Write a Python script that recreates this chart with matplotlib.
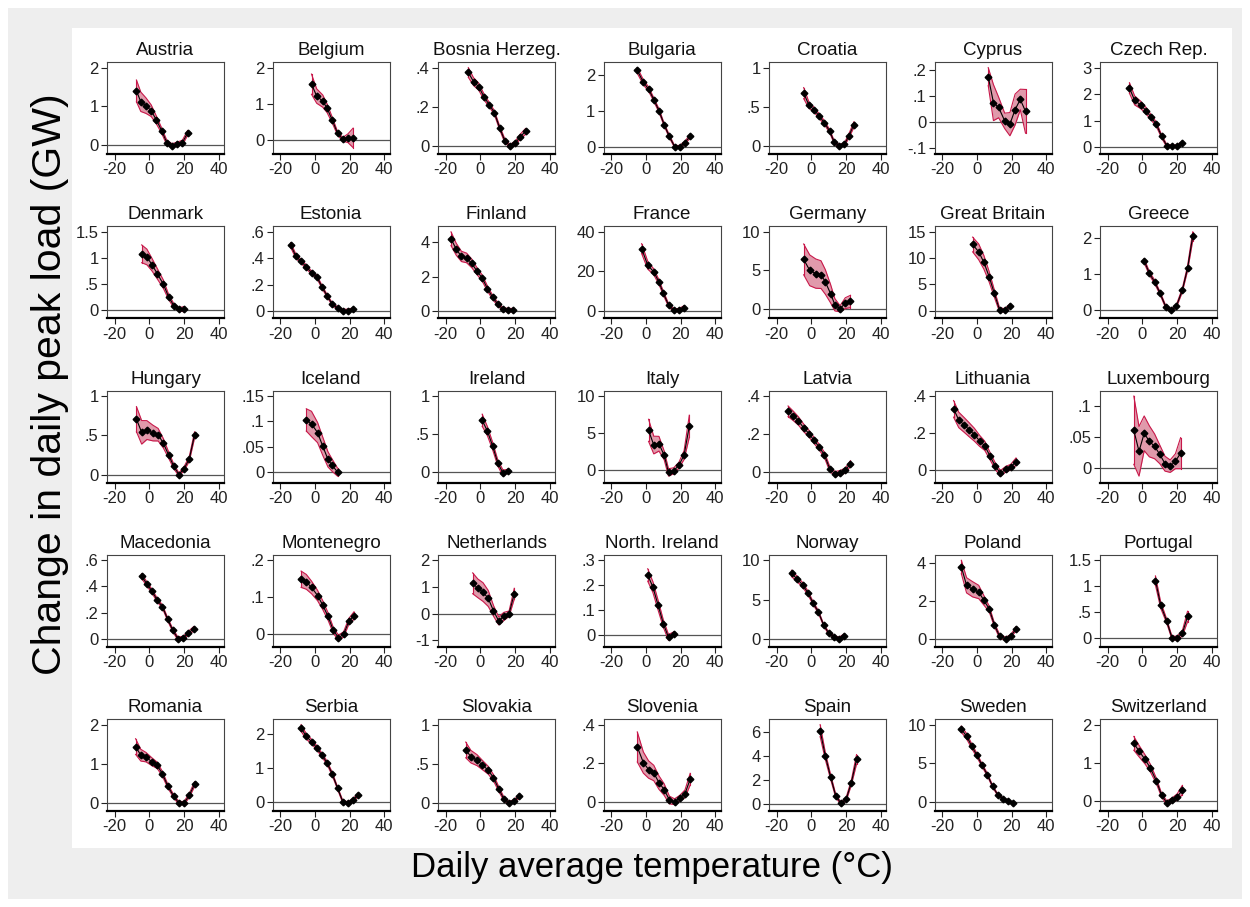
import matplotlib
matplotlib.use("Agg")
import matplotlib.pyplot as plt
from matplotlib.patches import Rectangle

COUNTRIES = [
    "Austria", "Belgium", "Bosnia Herzeg.", "Bulgaria", "Croatia", "Cyprus", "Czech Rep.",
    "Denmark", "Estonia", "Finland", "France", "Germany", "Great Britain", "Greece",
    "Hungary", "Iceland", "Ireland", "Italy", "Latvia", "Lithuania", "Luxembourg",
    "Macedonia", "Montenegro", "Netherlands", "North. Ireland", "Norway", "Poland", "Portugal",
    "Romania", "Serbia", "Slovakia", "Slovenia", "Spain", "Sweden", "Switzerland",
]

# bin temperatures (deg C) per country
TEMPS = [
    [-7.5, -5, -2, 1, 4, 7, 10, 13, 16, 19, 22],
    [-2, 1, 4.5, 7, 10, 13, 16, 19, 22],
    [-7, -4, -1, 2, 5, 8, 11, 14, 17, 20, 23, 26],
    [-5, -1.5, 1.5, 4.5, 7.5, 10.5, 13.5, 16.5, 19.5, 22.5, 25.5],
    [-4.5, -1.5, 1.5, 4.5, 7.5, 10.5, 13, 16, 19, 21.5, 24.5],
    [6.5, 9.5, 12.5, 16, 19, 22, 25, 28],
    [-7.5, -4.5, -1, 2, 5, 8, 11, 14, 17, 20, 23],
    [-4.5, -1.5, 1.5, 4.5, 8, 11, 14, 17, 20],
    [-14, -11, -8, -5, -2, 1, 4, 7, 10, 13, 16, 19, 22],
    [-17, -14, -11, -8, -5, -2, 1, 4, 7, 10, 13, 16, 19],
    [-2.5, 1, 4.5, 7.5, 10, 13, 16, 19, 22],
    [-4.5, -1, 2.5, 5.5, 8, 11, 13.5, 16.5, 19.5, 22.5],
    [-2.5, 1, 4, 7, 10, 13, 16, 19],
    [1, 4, 7, 10, 13.5, 16.5, 19.5, 23, 26, 29],
    [-7.5, -4.5, -1.5, 2, 5, 8, 11, 14, 17, 20, 23, 26],
    [-5, -2, 1.5, 4.5, 7.5, 10, 13],
    [1, 4, 7, 10, 13, 16],
    [1.5, 4.5, 7.5, 10.5, 13, 16, 19, 22, 25],
    [-13.5, -10.5, -7.5, -4.5, -1.5, 1.5, 4.5, 7.5, 10.5, 13.5, 16.5, 19.5, 22.5],
    [-13.5, -10.5, -7.5, -4.5, -1.5, 1.5, 4.5, 7.5, 10.5, 13.5, 16.5, 19.5, 22.5],
    [-5, -2, 1, 4, 7, 10, 13, 16, 19, 22],
    [-4.5, -1.5, 1.5, 4.5, 7.5, 10.5, 13.5, 16.5, 19.5, 22.5, 25.5],
    [-8, -5, -2, 1.5, 4.5, 7.5, 10.5, 13.5, 16.5, 19.5, 22.5],
    [-4.5, -1.5, 1.5, 4.5, 7.5, 10.5, 13.5, 16.5, 19.5],
    [1, 4, 7, 10, 13, 16],
    [-11.5, -8.5, -5, -2, 1, 4, 7, 10, 13, 16, 19],
    [-9, -6, -2.5, 1, 4, 7, 10, 13, 16.5, 19.5, 22.5],
    [7.5, 10.5, 14, 17, 20, 23, 26],
    [-8, -5, -2, 1.5, 4.5, 7.5, 10.5, 14, 17, 20, 23, 26],
    [-8, -5, -2, 1, 4, 7, 10, 13, 16, 19, 22, 25],
    [-8.5, -5.5, -2, 1, 4.5, 7.5, 10.5, 13.5, 16.5, 19.5, 22.5],
    [-5, -1.5, 1.5, 4.5, 7.5, 10.5, 13.5, 16.5, 19.5, 22.5, 25.5],
    [5, 8, 11, 14, 17, 20, 23, 26],
    [-9, -6, -3, 0, 3, 6, 9, 12, 15, 18, 21],
    [-5, -2, 1.5, 4.5, 8, 11, 14, 17, 20, 23],
]

# change in daily peak load (GW)
LOADS = [
    [1.40, 1.12, 1.02, 0.89, 0.65, 0.38, 0.07, -0.01, 0.03, 0.07, 0.32],
    [1.54, 1.21, 1.07, 0.87, 0.54, 0.18, 0.01, 0.04, 0.05],
    [0.378, 0.331, 0.305, 0.253, 0.213, 0.172, 0.095, 0.028, 0.0, 0.014, 0.049, 0.075],
    [2.12, 1.79, 1.60, 1.31, 1.00, 0.61, 0.28, 0.0, 0.0, 0.11, 0.29],
    [0.676, 0.525, 0.466, 0.382, 0.298, 0.193, 0.059, 0.004, 0.025, 0.13, 0.277],
    [0.176, 0.075, 0.056, 0.004, -0.009, 0.048, 0.087, 0.041],
    [2.23, 1.76, 1.59, 1.38, 1.12, 0.86, 0.41, 0.05, 0.03, 0.03, 0.16],
    [1.08, 1.02, 0.87, 0.70, 0.50, 0.26, 0.09, 0.02, 0.02],
    [0.50, 0.415, 0.376, 0.336, 0.291, 0.262, 0.185, 0.116, 0.053, 0.024, 0.005, 0.005, 0.013],
    [4.22, 3.61, 3.19, 3.10, 2.78, 2.33, 1.93, 1.32, 0.81, 0.41, 0.10, 0.06, 0.06],
    [31.5, 23.1, 19.7, 14.5, 8.9, 2.9, 0.2, 0.3, 1.5],
    [6.42, 5.0, 4.57, 4.44, 3.49, 1.98, 0.52, 0.0, 0.73, 0.95],
    [12.6, 11.2, 9.2, 6.5, 3.3, 0.2, 0.1, 1.0],
    [1.37, 1.02, 0.79, 0.49, 0.09, 0.0, 0.11, 0.56, 1.16, 2.05],
    [0.706, 0.538, 0.567, 0.529, 0.508, 0.399, 0.252, 0.105, 0.0, 0.076, 0.202, 0.504],
    [0.103, 0.095, 0.078, 0.051, 0.025, 0.013, 0.0],
    [0.68, 0.536, 0.34, 0.114, -0.02, 0.01],
    [5.35, 3.35, 3.53, 1.95, -0.37, -0.14, 0.6, 2.0, 5.9],
    [0.32, 0.296, 0.269, 0.233, 0.203, 0.167, 0.131, 0.090, 0.018, -0.009, -0.004, 0.009, 0.045],
    [0.331, 0.271, 0.245, 0.218, 0.191, 0.158, 0.131, 0.076, 0.022, -0.018, 0.004, 0.016, 0.045],
    [0.061, 0.027, 0.056, 0.043, 0.035, 0.022, 0.007, 0.003, 0.011, 0.024],
    [0.479, 0.420, 0.363, 0.296, 0.245, 0.149, 0.064, 0.0, 0.008, 0.044, 0.077],
    [0.149, 0.142, 0.127, 0.105, 0.079, 0.049, 0.012, -0.009, 0.0, 0.035, 0.051],
    [1.14, 0.95, 0.81, 0.57, 0.11, -0.27, -0.1, 0.0, 0.75],
    [0.241, 0.192, 0.119, 0.045, -0.011, 0.003],
    [8.35, 7.7, 6.87, 5.87, 4.57, 3.48, 1.83, 0.78, 0.35, 0.09, 0.43],
    [3.77, 2.81, 2.60, 2.46, 2.02, 1.58, 0.75, 0.14, 0.0, 0.14, 0.53],
    [1.11, 0.64, 0.33, 0.01, 0.0, 0.095, 0.42],
    [1.44, 1.22, 1.17, 1.05, 0.96, 0.74, 0.44, 0.17, 0.0, 0.0, 0.2, 0.48],
    [2.17, 1.92, 1.77, 1.59, 1.37, 1.14, 0.81, 0.40, 0.0, -0.05, 0.05, 0.20],
    [0.677, 0.591, 0.547, 0.487, 0.418, 0.323, 0.181, 0.052, 0.0, 0.022, 0.095],
    [0.284, 0.203, 0.167, 0.149, 0.099, 0.063, 0.009, 0.0, 0.018, 0.041, 0.117],
    [6.14, 4.03, 2.31, 0.72, 0.09, 0.43, 1.82, 3.75],
    [9.4, 8.5, 7.2, 6.0, 4.7, 3.5, 2.0, 0.88, 0.41, 0.09, -0.23],
    [1.51, 1.31, 1.09, 0.87, 0.53, 0.16, -0.04, 0.02, 0.11, 0.29],
]

# half width of the confidence band
CI_HALF = [
    [0.28, 0.25, 0.2, 0.15, 0.1, 0.07, 0.06, 0.05, 0.05, 0.06, 0.06],
    [0.28, 0.2, 0.17, 0.12, 0.08, 0.05, 0.05, 0.12, 0.27],
    [0.025, 0.02, 0.018, 0.015, 0.012, 0.01, 0.01, 0.01, 0.008, 0.01, 0.012, 0.015],
    [0.08, 0.07, 0.06, 0.05, 0.05, 0.04, 0.04, 0.03, 0.03, 0.04, 0.05],
    [0.07, 0.04, 0.03, 0.03, 0.025, 0.02, 0.02, 0.02, 0.02, 0.025, 0.035],
    [0.035, 0.07, 0.04, 0.03, 0.045, 0.06, 0.04, 0.085],
    [0.2, 0.17, 0.14, 0.12, 0.1, 0.08, 0.06, 0.05, 0.05, 0.05, 0.06],
    [0.17, 0.15, 0.12, 0.1, 0.08, 0.05, 0.04, 0.03, 0.05],
    [0.018, 0.016, 0.015, 0.014, 0.013, 0.012, 0.012, 0.01, 0.01, 0.01, 0.01, 0.01, 0.012],
    [0.4, 0.35, 0.3, 0.28, 0.25, 0.2, 0.18, 0.15, 0.12, 0.1, 0.1, 0.1, 0.1],
    [2.5, 2.0, 1.5, 1.2, 1.0, 0.8, 0.8, 0.8, 1.0],
    [2.0, 2.0, 1.9, 1.8, 1.6, 1.2, 0.8, 0.4, 0.7, 0.8],
    [1.4, 1.5, 1.3, 1.0, 0.7, 0.4, 0.3, 0.3],
    [0.06, 0.05, 0.05, 0.04, 0.04, 0.04, 0.04, 0.05, 0.07, 0.12],
    [0.16, 0.15, 0.12, 0.1, 0.08, 0.06, 0.04, 0.03, 0.02, 0.025, 0.03, 0.04],
    [0.022, 0.025, 0.02, 0.018, 0.015, 0.012, 0.008],
    [0.08, 0.06, 0.05, 0.04, 0.04, 0.02],
    [1.5, 1.2, 1.0, 0.6, 0.5, 0.4, 0.4, 0.6, 1.5],
    [0.028, 0.025, 0.022, 0.02, 0.018, 0.016, 0.015, 0.014, 0.013, 0.012, 0.012, 0.013, 0.015],
    [0.045, 0.042, 0.04, 0.038, 0.035, 0.03, 0.025, 0.02, 0.018, 0.015, 0.015, 0.015, 0.02],
    [0.055, 0.04, 0.028, 0.025, 0.02, 0.015, 0.012, 0.01, 0.012, 0.025],
    [0.018, 0.016, 0.015, 0.014, 0.013, 0.012, 0.012, 0.012, 0.012, 0.014, 0.016],
    [0.022, 0.02, 0.017, 0.014, 0.012, 0.01, 0.008, 0.007, 0.007, 0.008, 0.01],
    [0.39, 0.35, 0.35, 0.3, 0.2, 0.15, 0.15, 0.1, 0.2],
    [0.025, 0.022, 0.02, 0.015, 0.012, 0.008],
    [0.4, 0.35, 0.3, 0.25, 0.2, 0.18, 0.15, 0.15, 0.15, 0.2, 0.3],
    [0.35, 0.4, 0.4, 0.35, 0.25, 0.15, 0.1, 0.1, 0.08, 0.08, 0.1],
    [0.09, 0.06, 0.04, 0.03, 0.04, 0.05, 0.1],
    [0.2, 0.15, 0.12, 0.1, 0.08, 0.06, 0.05, 0.04, 0.04, 0.04, 0.05, 0.06],
    [0.1, 0.08, 0.07, 0.06, 0.06, 0.05, 0.05, 0.04, 0.04, 0.04, 0.04, 0.05],
    [0.1, 0.08, 0.07, 0.06, 0.05, 0.04, 0.03, 0.025, 0.02, 0.02, 0.025],
    [0.078, 0.055, 0.045, 0.04, 0.035, 0.03, 0.02, 0.015, 0.015, 0.02, 0.03],
    [0.5, 0.3, 0.2, 0.15, 0.1, 0.15, 0.2, 0.4],
    [0.4, 0.35, 0.3, 0.25, 0.2, 0.18, 0.15, 0.12, 0.12, 0.12, 0.15],
    [0.18, 0.15, 0.12, 0.1, 0.07, 0.05, 0.05, 0.06, 0.08, 0.12],
]

Y_TICKS = [
    [0, 1, 2], [0, 1, 2], [0, .2, .4], [0, 1, 2], [0, .5, 1], [-.1, 0, .1, .2], [0, 1, 2, 3],
    [0, .5, 1, 1.5], [0, .2, .4, .6], [0, 2, 4], [0, 20, 40], [0, 5, 10], [0, 5, 10, 15], [0, 1, 2],
    [0, .5, 1], [0, .05, .1, .15], [0, .5, 1], [0, 5, 10], [0, .2, .4], [0, .2, .4], [0, .05, .1],
    [0, .2, .4, .6], [0, .1, .2], [-1, 0, 1, 2], [0, .1, .2, .3], [0, 5, 10], [0, 2, 4], [0, .5, 1, 1.5],
    [0, 1, 2], [0, 1, 2], [0, .5, 1], [0, .2, .4], [0, 2, 4, 6], [0, 5, 10], [0, 1, 2],
]
X_TICKS = [-20, 0, 20, 40]

FONT = ["Liberation Sans", "DejaVu Sans"]
BAND_FILL = "#e09aab"
BAND_EDGE = "#c8184a"

W, H = 1250, 907


def stata_label(v):
    s = f"{v:g}"
    if s.startswith("0."):
        s = s[1:]
    elif s.startswith("-0."):
        s = "-" + s[2:]
    return s


def px_box(left, top, width, height):
    return [left / W, 1 - (top + height) / H, width / W, height / H]


plt.rcParams["font.family"] = FONT
fig = plt.figure(figsize=(W / 100, H / 100), dpi=100, facecolor="white")

# grey outer region and white plot region
fig.patches.append(Rectangle((8 / W, 8 / H), 1234 / W, 891 / H, transform=fig.transFigure,
                             facecolor="#eeeeee", edgecolor="none", zorder=-2))
fig.patches.append(Rectangle((72 / W, 1 - 848 / H), 1160 / W, 820 / H, transform=fig.transFigure,
                             facecolor="white", edgecolor="none", zorder=-1))

for i, name in enumerate(COUNTRIES):
    r, c = divmod(i, 7)
    ax = fig.add_axes(px_box(107 + 165.5 * c, 62 + 164.25 * r, 117, 92))
    x = TEMPS[i]
    y = LOADS[i]
    lo = [a - b for a, b in zip(y, CI_HALF[i])]
    hi = [a + b for a, b in zip(y, CI_HALF[i])]

    ax.fill_between(x, lo, hi, color=BAND_FILL, linewidth=0, zorder=1)
    ax.plot(x, lo, color=BAND_EDGE, lw=0.8, zorder=2)
    ax.plot(x, hi, color=BAND_EDGE, lw=0.8, zorder=2)
    ax.plot([x[0], x[0]], [lo[0], hi[0]], color=BAND_EDGE, lw=0.8, zorder=2)
    ax.plot([x[-1], x[-1]], [lo[-1], hi[-1]], color=BAND_EDGE, lw=0.8, zorder=2)
    ax.axhline(0, color="#555555", lw=0.9, zorder=0)
    ax.plot(x, y, color="black", lw=0.8, marker="D", markersize=3.4, zorder=3)

    ticks = Y_TICKS[i]
    ymin = min(ticks[0], min(lo))
    ymax = max(ticks[-1], max(hi))
    span = ymax - ymin
    ax.set_ylim(ymin - 0.08 * span, ymax + 0.07 * span)
    ax.set_xlim(-24.5, 43)
    ax.set_yticks(ticks)
    ax.set_yticklabels([stata_label(t) for t in ticks])
    ax.set_xticks(X_TICKS)
    ax.set_xticklabels([str(t) for t in X_TICKS])
    ax.tick_params(direction="out", length=4, width=0.8, labelsize=12, pad=2, colors="#222222")

    for side in ["top", "right", "left"]:
        ax.spines[side].set_color("#444444")
        ax.spines[side].set_linewidth(0.8)
    ax.spines["bottom"].set_color("black")
    ax.spines["bottom"].set_linewidth(1.6)

    ax.set_title(name, fontsize=13.5, pad=5, color="#111111")

fig.text(0.04, 1 - 384 / H, "Change in daily peak load (GW)", rotation=90,
         ha="center", va="center", fontsize=29.5)
fig.text(652 / W, 1 - 868 / H, "Daily average temperature (°C)",
         ha="center", va="center", fontsize=25)

fig.savefig("out.png", dpi=100, facecolor=fig.get_facecolor())
